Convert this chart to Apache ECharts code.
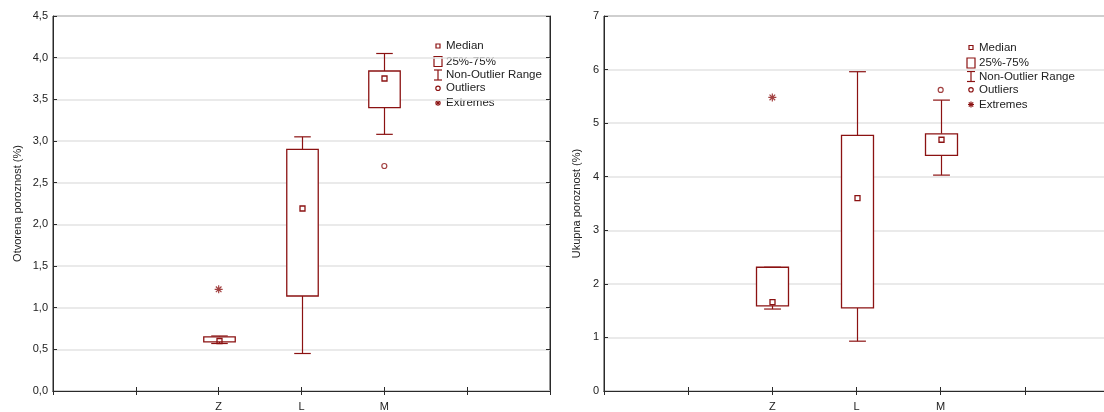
<!DOCTYPE html>
<html>
<head>
<meta charset="utf-8">
<script src="https://cdn.jsdelivr.net/npm/echarts@6/dist/echarts.min.js"></script>
<style>
  html, body { margin: 0; padding: 0; background: #fff; overflow: hidden; }
  #chart { width: 1112px; height: 412px; }
</style>
</head>
<body>
<div id="chart"></div>
<script>
// x axis ticks: groups sit on the 3rd, 4th and 5th tick
var xTicks = ['', '', 'Z', 'L', 'M', '', ''];
var groups = ['Z', 'L', 'M'];

// Otvorena poroznost (%)
var openLow = [0.57, 0.45, 3.08];
var openQ1 = [0.59, 1.14, 3.40];
var openMed = [0.60, 2.19, 3.75];
var openQ3 = [0.65, 2.90, 3.84];
var openHigh = [0.66, 3.05, 4.05];
var openOutliers = [['M', 2.70]];
var openExtremes = [['Z', 1.22]];

// Ukupna poroznost (%)
var totalLow = [1.53, 0.93, 4.03];
var totalQ1 = [1.59, 1.55, 4.40];
var totalMed = [1.66, 3.60, 4.69];
var totalQ3 = [2.31, 4.77, 4.80];
var totalHigh = [2.31, 5.96, 5.43];
var totalOutliers = [['M', 5.62]];
var totalExtremes = [['Z', 5.48]];

var legendLabels = ['Median', '25%-75%', 'Non-Outlier Range', 'Outliers', 'Extremes'];

var RED = '#8b1212';
var AXIS = '#2a2a2a';
var FONT = 'Liberation Sans, Arial, sans-serif';

function boxRows(low, q1, med, q3, high) {
	return groups.map(function (g, i) {
		return [xTicks.indexOf(g), low[i], q1[i], med[i], q3[i], high[i]];
	});
}
function pointRows(list) {
	return list.map(function (p) { return [xTicks.indexOf(p[0]), p[1]]; });
}

function renderBox(params, api) {
	var x = api.value(0);
	var band = api.size([1, 0])[0];
	var boxW = band * 0.38;
	var capW = band * 0.2;
	var pLow = api.coord([x, api.value(1)]);
	var pQ1 = api.coord([x, api.value(2)]);
	var pMed = api.coord([x, api.value(3)]);
	var pQ3 = api.coord([x, api.value(4)]);
	var pHigh = api.coord([x, api.value(5)]);
	var cx = Math.round(pMed[0]) + 0.5;
	var st = { stroke: RED, lineWidth: 1.2, fill: null };
	return {
		type: 'group',
		children: [
			{ type: 'line', shape: { x1: cx, y1: pLow[1], x2: cx, y2: pQ1[1] }, style: st },
			{ type: 'line', shape: { x1: cx, y1: pQ3[1], x2: cx, y2: pHigh[1] }, style: st },
			{ type: 'line', shape: { x1: cx - capW / 2, y1: pLow[1], x2: cx + capW / 2, y2: pLow[1] }, style: st },
			{ type: 'line', shape: { x1: cx - capW / 2, y1: pHigh[1], x2: cx + capW / 2, y2: pHigh[1] }, style: st },
			{ type: 'rect', shape: { x: cx - boxW / 2, y: pQ3[1], width: boxW, height: pQ1[1] - pQ3[1] },
				style: { stroke: RED, lineWidth: 1.3, fill: '#fff' } },
			{ type: 'rect', shape: { x: cx - 2.5, y: pMed[1] - 2.5, width: 5, height: 5 },
				style: { stroke: RED, lineWidth: 1.3, fill: null } }
		]
	};
}

var asterisk = 'path://M5,0L5,10M0,5L10,5M1.5,1.5L8.5,8.5M8.5,1.5L1.5,8.5';

function makeSeries(xi, low, q1, med, q3, high, outl, extr) {
	return [
		{ type: 'custom', xAxisIndex: xi, yAxisIndex: xi, renderItem: renderBox,
			encode: { x: 0, y: [1, 2, 3, 4, 5] }, data: boxRows(low, q1, med, q3, high), z: 3 },
		{ type: 'scatter', xAxisIndex: xi, yAxisIndex: xi, symbol: 'circle', symbolSize: 5,
			itemStyle: { color: '#fff', borderColor: RED, borderWidth: 1.2 }, data: pointRows(outl), z: 4 },
		{ type: 'scatter', xAxisIndex: xi, yAxisIndex: xi, symbol: asterisk, symbolSize: 8,
			itemStyle: { color: 'none', borderColor: RED, borderWidth: 1.2 }, data: pointRows(extr), z: 4 }
	];
}

function xAxes(gi, pos) {
	return {
		type: 'category', gridIndex: gi, position: pos, data: xTicks, boundaryGap: false,
		axisLine: { show: true, lineStyle: { color: AXIS, width: 1 } },
		axisTick: { show: true, inside: true, length: 4, interval: 0, lineStyle: { color: AXIS } },
		axisLabel: { show: pos === 'bottom', interval: 0, color: '#222', fontSize: 11, fontFamily: FONT, margin: 10 },
		splitLine: { show: false }
	};
}

function yAxes(gi, pos, max, step, name, gap, fmt) {
	var ax = {
		type: 'value', gridIndex: gi, position: pos, min: 0, max: max, interval: step,
		axisLine: { show: true, lineStyle: { color: AXIS, width: 1 } },
		axisTick: { show: true, inside: true, length: 4, lineStyle: { color: AXIS } },
		axisLabel: { show: pos === 'left', color: '#222', fontSize: 11, fontFamily: FONT, margin: 5, formatter: fmt },
		splitLine: { show: pos === 'left', lineStyle: { color: '#e3e3e3', width: 1.5 } }
	};
	if (pos === 'left') {
		ax.name = name;
		ax.nameLocation = 'middle';
		ax.nameGap = gap;
		ax.nameTextStyle = { color: '#222', fontSize: 11, fontFamily: FONT };
	}
	return ax;
}

function legendGraphic(left, top) {
	var rowY = [0, 15.5, 29, 42.3, 57];
	var st = { stroke: RED, lineWidth: 1.2, fill: null };
	var icons = [
		{ type: 'rect', shape: { x: -2, y: -2, width: 4, height: 4 }, style: st },
		{ type: 'rect', shape: { x: -4, y: -5, width: 8, height: 10 }, style: st },
		{ type: 'group', children: [
			{ type: 'line', shape: { x1: 0, y1: -5, x2: 0, y2: 5 }, style: st },
			{ type: 'line', shape: { x1: -4, y1: -5, x2: 4, y2: -5 }, style: st },
			{ type: 'line', shape: { x1: -4, y1: 5, x2: 4, y2: 5 }, style: st }
		] },
		{ type: 'circle', shape: { cx: 0, cy: 0, r: 2.2 }, style: st },
		{ type: 'group', children: [
			{ type: 'line', shape: { x1: 0, y1: -3, x2: 0, y2: 3 }, style: st },
			{ type: 'line', shape: { x1: -3, y1: 0, x2: 3, y2: 0 }, style: st },
			{ type: 'line', shape: { x1: -2.2, y1: -2.2, x2: 2.2, y2: 2.2 }, style: st },
			{ type: 'line', shape: { x1: 2.2, y1: -2.2, x2: -2.2, y2: 2.2 }, style: st }
		] }
	];
	var children = [];
	legendLabels.forEach(function (lab, i) {
		var ic = icons[i];
		ic.x = 0; ic.y = rowY[i];
		children.push(ic);
		children.push({ type: 'text', x: 8, y: rowY[i],
			style: { text: lab, fill: '#222', fontSize: 11.5, fontFamily: FONT, verticalAlign: 'middle' } });
	});
	return { type: 'group', x: left, y: top, children: children, z: 10 };
}

var myChart = echarts.init(document.getElementById('chart'));
var option = {
	animation: false,
	backgroundColor: '#fff',
	grid: [
		{ left: 53, top: 16, width: 497, height: 375, show: true, borderColor: AXIS, borderWidth: 1 },
		{ left: 604, top: 16, width: 506, height: 375, show: true, borderColor: AXIS, borderWidth: 1 }
	],
	xAxis: [xAxes(0, 'bottom'), xAxes(0, 'top'), xAxes(1, 'bottom'), xAxes(1, 'top')],
	yAxis: [
		yAxes(0, 'left', 4.5, 0.5, 'Otvorena poroznost (%)', 30, function (v) { return v.toFixed(1).replace('.', ','); }),
		yAxes(0, 'right', 4.5, 0.5),
		yAxes(1, 'left', 7, 1, 'Ukupna poroznost (%)', 22, function (v) { return String(v); }),
		yAxes(1, 'right', 7, 1)
	],
	series: [].concat(
		makeSeries(0, openLow, openQ1, openMed, openQ3, openHigh, openOutliers, openExtremes),
		makeSeries(2, totalLow, totalQ1, totalMed, totalQ3, totalHigh, totalOutliers, totalExtremes)
	),
	graphic: [legendGraphic(438, 46), legendGraphic(971, 47.5)]
};
myChart.setOption(option);
</script>
</body>
</html>
